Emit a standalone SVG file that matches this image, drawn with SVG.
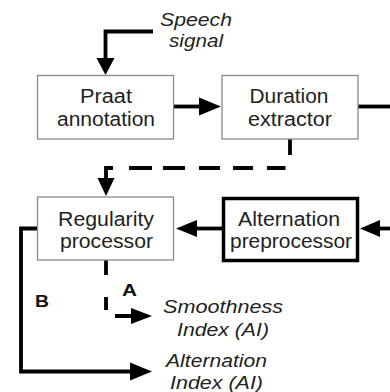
<svg xmlns="http://www.w3.org/2000/svg" width="390" height="392" viewBox="0 0 390 392">
<defs>
<style>
.box{fill:#fff;stroke:#8a8a8a;stroke-width:1.3}
.bold{fill:#fff;stroke:#000;stroke-width:3.5}
.t{font-family:"Liberation Sans",Arial,sans-serif;font-size:20px;fill:#222;text-anchor:middle}
.i{font-family:"Liberation Sans",Arial,sans-serif;font-size:19px;font-style:italic;fill:#222}
.lb{font-family:"Liberation Sans",Arial,sans-serif;font-size:16px;font-weight:bold;fill:#111}
.ln{fill:none;stroke:#000;stroke-width:3.8}
.hd{fill:#000;stroke:none}
</style>
</defs>
<rect width="390" height="392" fill="#fff"/>
<g id="connectors">
<path class="ln" d="M153,31.5 H105.5 V60"/>
<polygon class="hd" points="96.5,58 114.5,58 105.5,75"/>
<path class="ln" d="M174,106.5 H201"/>
<polygon class="hd" points="199,97.5 199,115.5 221,106.5"/>
<path class="ln" d="M358,106.5 H390"/>
<path class="ln" d="M290,139 V155 M285.5,168 H267 M253,168 H233 M220,168 H199 M185,168 H163 M152,168 H129 M113,168 H106 V180"/>
<polygon class="hd" points="97.5,178 114.5,178 106,196"/>
<path class="ln" d="M390,228.5 H378"/>
<polygon class="hd" points="380,220 380,237 360,228.5"/>
<path class="ln" d="M222,228.5 H195"/>
<polygon class="hd" points="197,220 197,237 176,228.5"/>
<path class="ln" d="M37,228.5 H21 V371.5 H132"/>
<polygon class="hd" points="130,362.5 130,380.5 152,371.5"/>
<path class="ln" d="M106,260 V275 M106,297 V310 M115,316 H133"/>
<polygon class="hd" points="131,308 131,324 152,316"/>
</g>
<g id="speech-signal">
<text class="i" x="160" y="25.5" textLength="72" lengthAdjust="spacingAndGlyphs">Speech</text>
<text class="i" x="169" y="46.5" textLength="54" lengthAdjust="spacingAndGlyphs">signal</text>
</g>
<g id="praat">
<rect class="box" x="37.5" y="75.5" width="136" height="63.5"/>
<text class="t" x="106" y="102.5" textLength="52" lengthAdjust="spacingAndGlyphs">Praat</text>
<text class="t" x="106" y="125.5" textLength="98" lengthAdjust="spacingAndGlyphs">annotation</text>
</g>
<g id="duration">
<rect class="box" x="222" y="75.5" width="136" height="63.5"/>
<text class="t" x="289" y="102.5" textLength="79" lengthAdjust="spacingAndGlyphs">Duration</text>
<text class="t" x="290" y="125.5" textLength="84" lengthAdjust="spacingAndGlyphs">extractor</text>
</g>
<g id="regularity">
<rect class="box" x="37.5" y="197" width="136" height="63"/>
<text class="t" x="106" y="226" textLength="96" lengthAdjust="spacingAndGlyphs">Regularity</text>
<text class="t" x="106.5" y="247.5" textLength="93" lengthAdjust="spacingAndGlyphs">processor</text>
</g>
<g id="alternation">
<rect class="bold" x="223.5" y="198.5" width="134" height="62"/>
<text class="t" x="289" y="226" textLength="102" lengthAdjust="spacingAndGlyphs">Alternation</text>
<text class="t" x="291" y="247.5" textLength="122" lengthAdjust="spacingAndGlyphs">preprocessor</text>
</g>
<g id="label-a"><text class="lb" x="122" y="296" textLength="15" lengthAdjust="spacingAndGlyphs">A</text></g>
<g id="label-b"><text class="lb" x="35" y="306.5" textLength="14" lengthAdjust="spacingAndGlyphs">B</text></g>
<g id="smoothness">
<text class="i" x="163" y="313" textLength="120" lengthAdjust="spacingAndGlyphs">Smoothness</text>
<text class="i" x="177" y="336" textLength="92" lengthAdjust="spacingAndGlyphs">Index (AI)</text>
</g>
<g id="alternation-index">
<text class="i" x="166" y="366.5" textLength="101" lengthAdjust="spacingAndGlyphs">Alternation</text>
<text class="i" x="170" y="389" textLength="93" lengthAdjust="spacingAndGlyphs">Index (AI)</text>
</g>
</svg>
